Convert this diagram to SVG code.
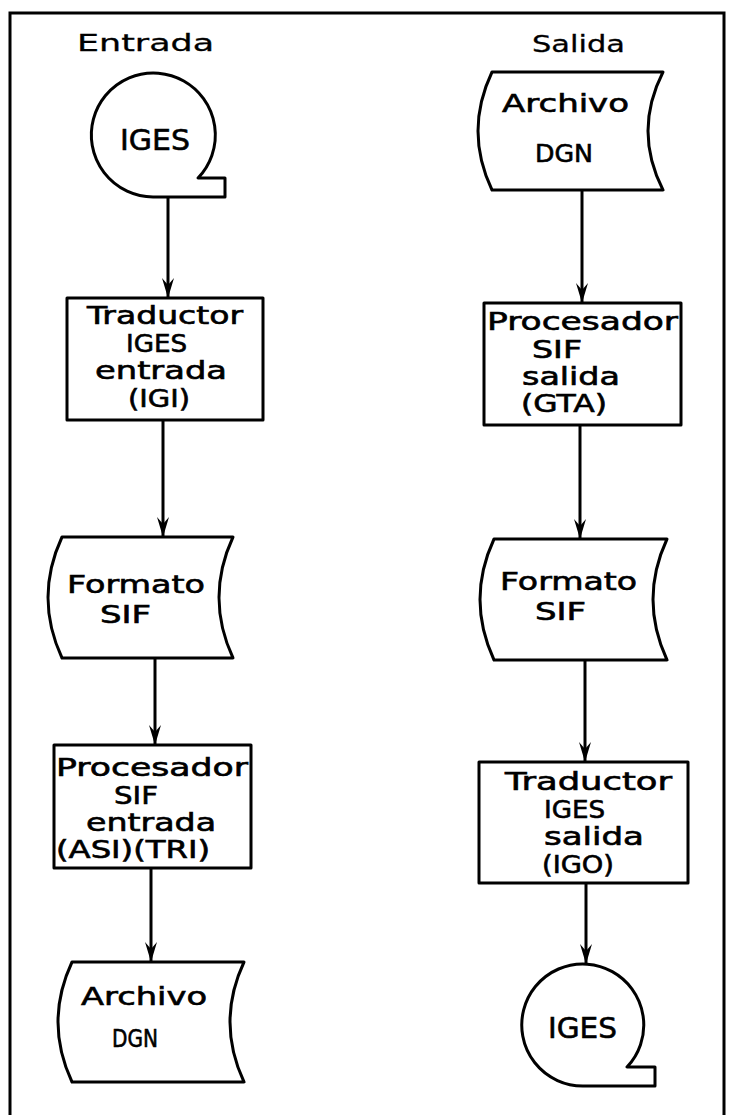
<svg xmlns="http://www.w3.org/2000/svg" width="729" height="1115" viewBox="0 0 729 1115">
<style>
.s{fill:#fff;stroke:#000;stroke-width:3;stroke-linejoin:round}
.c{fill:none;stroke:#000;stroke-width:3}
.t{font-family:"DejaVu Sans",sans-serif;font-size:24px;fill:#000;stroke:#000;stroke-width:0.6}
.b{font-family:"DejaVu Sans",sans-serif;font-size:29px;fill:#000;stroke:#000;stroke-width:0.6}
.h{font-family:"DejaVu Sans",sans-serif;font-size:23px;fill:#000;stroke:#000;stroke-width:0.3}
</style>
<defs>
<marker id="ar" markerUnits="userSpaceOnUse" viewBox="-22 -8 24 16" refX="0" refY="0" markerWidth="24" markerHeight="16" orient="auto">
<path d="M0,0 L-20,-6 L-13,0 L-20,6 Z" fill="#000"/>
</marker>
</defs>
<rect width="729" height="1115" fill="#fff"/>
<path class="c" d="M10,1115 V13 H724 V1115"/>
<text class="h" x="77" y="51" textLength="137" lengthAdjust="spacingAndGlyphs">Entrada</text>
<text class="h" x="532" y="52" textLength="93" lengthAdjust="spacingAndGlyphs">Salida</text>
<g id="connectors">
<line class="c" x1="168" y1="195" x2="168" y2="298" marker-end="url(#ar)"/>
<line class="c" x1="163" y1="420" x2="163" y2="537" marker-end="url(#ar)"/>
<line class="c" x1="155" y1="658" x2="155" y2="745" marker-end="url(#ar)"/>
<line class="c" x1="151" y1="868" x2="151" y2="962" marker-end="url(#ar)"/>
<line class="c" x1="582" y1="190" x2="582" y2="303" marker-end="url(#ar)"/>
<line class="c" x1="580" y1="425" x2="580" y2="539" marker-end="url(#ar)"/>
<line class="c" x1="585" y1="660" x2="585" y2="762" marker-end="url(#ar)"/>
<line class="c" x1="586" y1="883" x2="586" y2="964" marker-end="url(#ar)"/>
</g>
<g id="in_iges">
<path class="s" d="M153,197 A62,62 0 1 1 198,178 L225,178 L225,197 Z"/>
<text class="b" x="120" y="150" textLength="70" lengthAdjust="spacingAndGlyphs">IGES</text>
</g>
<g id="in_igi">
<rect class="s" x="67" y="298" width="196" height="122"/>
<text class="t" x="87" y="324" textLength="156" lengthAdjust="spacingAndGlyphs">Traductor</text>
<text class="t" x="126" y="352" textLength="61" lengthAdjust="spacingAndGlyphs">IGES</text>
<text class="t" x="95" y="379" textLength="132" lengthAdjust="spacingAndGlyphs">entrada</text>
<text class="t" x="128" y="407" textLength="62" lengthAdjust="spacingAndGlyphs">(IGI)</text>
</g>
<g id="in_sif">
<path class="s" d="M62,537 L233,537 Q205,597.5 233,658 L62,658 Q34,597.5 62,537 Z"/>
<text class="t" x="67" y="593" textLength="138" lengthAdjust="spacingAndGlyphs">Formato</text>
<text class="t" x="100" y="623" textLength="51" lengthAdjust="spacingAndGlyphs">SIF</text>
</g>
<g id="in_asi">
<rect class="s" x="54" y="745" width="197" height="123"/>
<text class="t" x="56" y="776" textLength="192" lengthAdjust="spacingAndGlyphs">Procesador</text>
<text class="t" x="114" y="804" textLength="44" lengthAdjust="spacingAndGlyphs">SIF</text>
<text class="t" x="86" y="831" textLength="130" lengthAdjust="spacingAndGlyphs">entrada</text>
<text class="t" x="56" y="858" textLength="154" lengthAdjust="spacingAndGlyphs">(ASI)(TRI)</text>
</g>
<g id="in_dgn">
<path class="s" d="M72,962 L244,962 Q216,1022 244,1082 L72,1082 Q44,1022 72,962 Z"/>
<text class="t" x="81" y="1005" textLength="126" lengthAdjust="spacingAndGlyphs">Archivo</text>
<text class="t" x="112" y="1047" textLength="46" lengthAdjust="spacingAndGlyphs">DGN</text>
</g>
<g id="out_dgn">
<path class="s" d="M492,72 L663,72 Q633,131 663,190 L492,190 Q464,131 492,72 Z"/>
<text class="t" x="502" y="112" textLength="127" lengthAdjust="spacingAndGlyphs">Archivo</text>
<text class="t" x="535" y="162" textLength="58" lengthAdjust="spacingAndGlyphs">DGN</text>
</g>
<g id="out_gta">
<rect class="s" x="484" y="303" width="197" height="122"/>
<text class="t" x="487" y="330" textLength="191" lengthAdjust="spacingAndGlyphs">Procesador</text>
<text class="t" x="532" y="358" textLength="50" lengthAdjust="spacingAndGlyphs">SIF</text>
<text class="t" x="522" y="385" textLength="98" lengthAdjust="spacingAndGlyphs">salida</text>
<text class="t" x="521" y="412" textLength="86" lengthAdjust="spacingAndGlyphs">(GTA)</text>
</g>
<g id="out_sif">
<path class="s" d="M494,539 L667,539 Q639,599.5 667,660 L494,660 Q466,599.5 494,539 Z"/>
<text class="t" x="500" y="590" textLength="137" lengthAdjust="spacingAndGlyphs">Formato</text>
<text class="t" x="535" y="620" textLength="51" lengthAdjust="spacingAndGlyphs">SIF</text>
</g>
<g id="out_igo">
<rect class="s" x="479" y="762" width="209" height="121"/>
<text class="t" x="505" y="790" textLength="167" lengthAdjust="spacingAndGlyphs">Traductor</text>
<text class="t" x="544" y="818" textLength="61" lengthAdjust="spacingAndGlyphs">IGES</text>
<text class="t" x="544" y="845" textLength="100" lengthAdjust="spacingAndGlyphs">salida</text>
<text class="t" x="542" y="873" textLength="72" lengthAdjust="spacingAndGlyphs">(IGO)</text>
</g>
<g id="out_iges">
<path class="s" d="M583,1086 A61,61 0 1 1 627,1067 L655,1067 L655,1086 Z"/>
<text class="b" x="548" y="1038" textLength="69" lengthAdjust="spacingAndGlyphs">IGES</text>
</g>
</svg>
